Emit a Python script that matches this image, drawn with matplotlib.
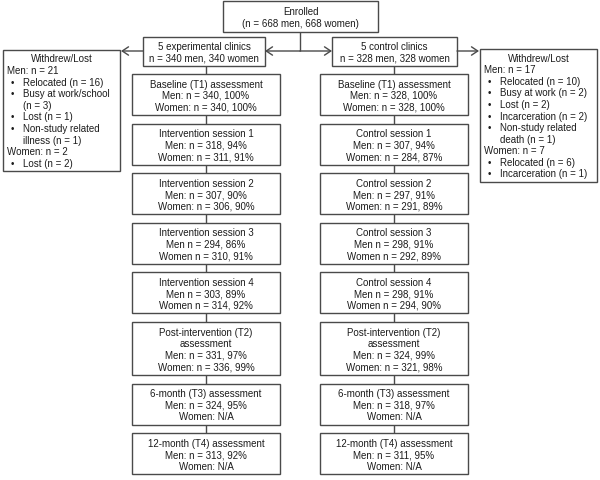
from __future__ import annotations

import matplotlib.pyplot as plt

# Enrolment and arm allocation
enrolled_men = 668
enrolled_women = 668
arm_names = ["5 experimental clinics", "5 control clinics"]
arm_men = [340, 328]
arm_women = [340, 328]

# Follow-up stages (one entry per box, top to bottom)
exp_stage_labels = [
    "Baseline (T1) assessment",
    "Intervention session 1",
    "Intervention session 2",
    "Intervention session 3",
    "Intervention session 4",
    "Post-intervention (T2)\nassessment",
    "6-month (T3) assessment",
    "12-month (T4) assessment",
]
ctrl_stage_labels = [
    "Baseline (T1) assessment",
    "Control session 1",
    "Control session 2",
    "Control session 3",
    "Control session 4",
    "Post-intervention (T2)\nassessment",
    "6-month (T3) assessment",
    "12-month (T4) assessment",
]
exp_men_n = [340, 318, 307, 294, 303, 331, 324, 313]
exp_men_pct = [100, 94, 90, 86, 89, 97, 95, 92]
exp_women_n = [340, 311, 306, 310, 314, 336, None, None]
exp_women_pct = [100, 91, 90, 91, 92, 99, None, None]
ctrl_men_n = [328, 307, 297, 298, 298, 324, 318, 311]
ctrl_men_pct = [100, 94, 91, 91, 91, 99, 97, 95]
ctrl_women_n = [328, 284, 291, 292, 294, 321, None, None]
ctrl_women_pct = [100, 87, 89, 89, 90, 98, None, None]
stage_has_colon = [True, True, True, False, False, True, True, True]

# Withdrawals
exp_lost_men = 21
exp_lost_men_reasons = [("Relocated", 16), ("Busy at work/school\n", 3), ("Lost", 1),
                        ("Non-study related\nillness", 1)]
exp_lost_women = 2
exp_lost_women_reasons = [("Lost", 2)]
ctrl_lost_men = 17
ctrl_lost_men_reasons = [("Relocated", 10), ("Busy at work", 2), ("Lost", 2),
                         ("Incarceration", 2), ("Non-study related\ndeath", 1)]
ctrl_lost_women = 7
ctrl_lost_women_reasons = [("Relocated", 6), ("Incarceration", 1)]

FONT = "Liberation Sans"
FS = 7
TXT = "#1c1c1c"
EDGE = "#4a4a4a"
LW = 1.0
PITCH = 11.5
SIDE_PITCH = 11.6
BASE = 3.5  # baseline offset from visual line centre (px)


def box(ax, x0, y0, x1, y1):
    ax.add_patch(plt.Rectangle((x0, y0), x1 - x0, y1 - y0, fill=False,
                               edgecolor=EDGE, lw=LW))


def centred_lines(ax, cx, cy, lines):
    first = cy - (len(lines) - 1) * PITCH / 2
    for i, s in enumerate(lines):
        ax.text(cx, first + i * PITCH + BASE, s, ha="center", va="baseline",
                fontsize=FS, family=FONT, color=TXT)


def line(ax, xs, ys):
    ax.plot(xs, ys, color=EDGE, lw=LW, solid_capstyle="butt")


def arrow(ax, start, end):
    ax.annotate("", xy=end, xytext=start,
                arrowprops=dict(arrowstyle="->,head_length=0.45,head_width=0.3",
                                color=EDGE, lw=LW, shrinkA=0, shrinkB=0,
                                mutation_scale=10))


def stage_lines(label, has_colon, mn, mp, wn, wp):
    sep = ": " if has_colon else " "
    out = label.split("\n")
    out.append(f"Men{sep}n = {mn}, {mp}%")
    out.append("Women: N/A" if wn is None else f"Women{sep}n = {wn}, {wp}%")
    return out


def withdraw_lines(men, men_reasons, women, women_reasons):
    rows = [("head", "Withdrew/Lost"), ("plain", f"Men: n = {men}")]
    for label, n in men_reasons:
        txt = f"{label} (n = {n})".replace("\n ", "\n").split("\n")
        rows.append(("bullet", txt[0]))
        rows += [("cont", t) for t in txt[1:]]
    rows.append(("plain", f"Women: n = {women}"))
    for label, n in women_reasons:
        rows.append(("bullet", f"{label} (n = {n})"))
    return rows


def withdraw_box(ax, x0, x1, y0, rows):
    y1 = y0 + len(rows) * SIDE_PITCH + 5
    box(ax, x0, y0, x1, y1)
    for i, (kind, s) in enumerate(rows):
        y = y0 + 8 + i * SIDE_PITCH + BASE
        kw = dict(va="baseline", fontsize=FS, family=FONT, color=TXT)
        if kind == "head":
            ax.text((x0 + x1) / 2, y, s, ha="center", **kw)
        elif kind == "plain":
            ax.text(x0 + 4, y, s, ha="left", **kw)
        else:
            if kind == "bullet":
                ax.text(x0 + 7.5, y, "\u2022", ha="left", **kw)
            ax.text(x0 + 20, y, s, ha="left", **kw)


def main() -> None:
    fig = plt.figure(figsize=(6.0, 4.81), dpi=100)
    ax = fig.add_axes([0, 0, 1, 1])
    ax.set_xlim(0, 600)
    ax.set_ylim(481, 0)
    ax.axis("off")

    # Enrolled
    box(ax, 223, 2, 378, 33)
    centred_lines(ax, 300.5, 17.5,
                  ["Enrolled", f"(n = {enrolled_men} men, {enrolled_women} women)"])

    # Arm boxes
    arm_boxes = [(143, 265), (332, 457)]
    arm_y0, arm_y1, arm_mid = 38, 67, 52
    for (x0, x1), name, m, w in zip(arm_boxes, arm_names, arm_men, arm_women):
        box(ax, x0, arm_y0, x1, arm_y1)
        centred_lines(ax, (x0 + x1) / 2, (arm_y0 + arm_y1) / 2,
                      [name, f"n = {m} men, {w} women"])

    line(ax, [300, 300], [33, arm_mid])
    arrow(ax, (300, arm_mid), (265, arm_mid))
    arrow(ax, (300, arm_mid), (332, arm_mid))
    arrow(ax, (143, arm_mid), (121, arm_mid))
    arrow(ax, (457, arm_mid), (479, arm_mid))

    # Withdrawal boxes
    withdraw_box(ax, 3, 120, 51,
                 withdraw_lines(exp_lost_men, exp_lost_men_reasons,
                                exp_lost_women, exp_lost_women_reasons))
    withdraw_box(ax, 480, 597, 50,
                 withdraw_lines(ctrl_lost_men, ctrl_lost_men_reasons,
                                ctrl_lost_women, ctrl_lost_women_reasons))

    # Stage columns
    columns = [
        (132, 280, exp_stage_labels, exp_men_n, exp_men_pct, exp_women_n, exp_women_pct),
        (320, 468, ctrl_stage_labels, ctrl_men_n, ctrl_men_pct, ctrl_women_n, ctrl_women_pct),
    ]
    for x0, x1, labels, mn, mp, wn, wp in columns:
        cx = (x0 + x1) / 2
        prev_bottom = arm_y1
        top = 75
        for i, label in enumerate(labels):
            rows = stage_lines(label, stage_has_colon[i], mn[i], mp[i], wn[i], wp[i])
            h = 12 * len(rows) + 5
            line(ax, [cx, cx], [prev_bottom, top])
            box(ax, x0, top, x1, top + h)
            centred_lines(ax, cx, top + h / 2, rows)
            prev_bottom = top + h
            top = prev_bottom + 8.6

    fig.savefig("out.png", dpi=100)
    plt.close(fig)


if __name__ == "__main__":
    main()
